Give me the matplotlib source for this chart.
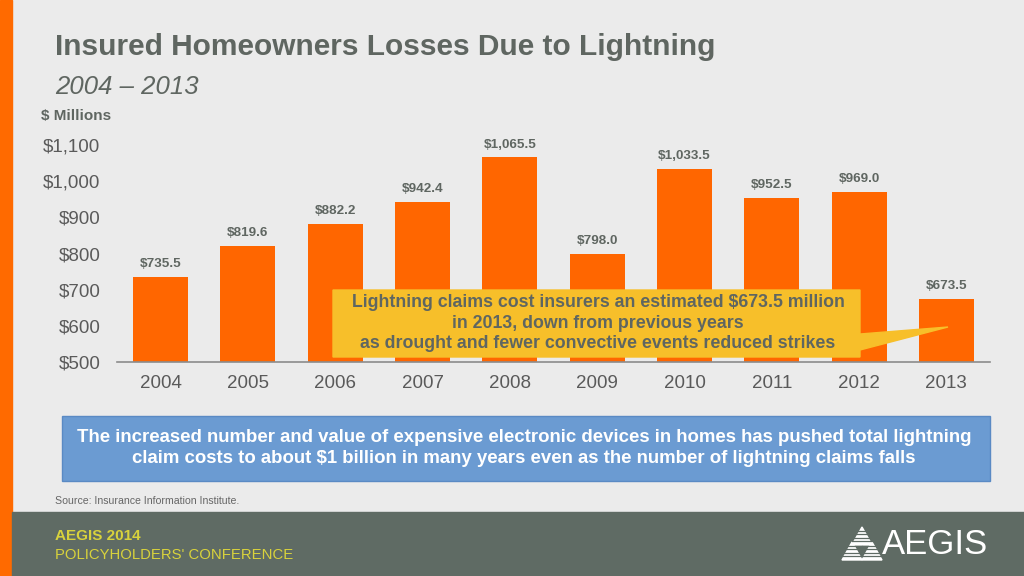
import numpy as np
import matplotlib
matplotlib.use("Agg")
import matplotlib.pyplot as plt
from matplotlib.patches import Rectangle, Polygon

plt.rcParams['font.family'] = ['Liberation Sans', 'DejaVu Sans']

# data
years = ['2004', '2005', '2006', '2007', '2008', '2009', '2010', '2011', '2012', '2013']
losses = [735.5, 819.6, 882.2, 942.4, 1065.5, 798.0, 1033.5, 952.5, 969.0, 673.5]
y_ticks = [500, 600, 700, 800, 900, 1000, 1100]

grey_txt = '#5f6661'
orange = '#ff6600'

fig = plt.figure(figsize=(10.24, 5.76), dpi=100)
fig.patch.set_facecolor('#ebebeb')

# background layer (pixel coords)
bg = fig.add_axes([0, 0, 1, 1], zorder=0)
bg.set_xlim(0, 1024)
bg.set_ylim(576, 0)
bg.axis('off')
bg.add_patch(Rectangle((0, 0), 12, 576, color='#ff6a00'))
bg.add_patch(Rectangle((12, 512), 1012, 64, color='#5f6b64'))

# chart
ax = fig.add_axes([117 / 1024, (576 - 362) / 576, 873 / 1024, 217 / 576], zorder=2)
ax.patch.set_alpha(0)
x = np.arange(len(years))
bars = ax.bar(x, losses, width=0.63, color=orange)
ax.set_xlim(-0.5, len(years) - 0.5)
ax.set_ylim(500, 1100)
ax.set_yticks(y_ticks)
ax.set_yticklabels([f'${v:,}' for v in y_ticks])
ax.set_xticks(x)
ax.set_xticklabels(years)
for s in ['top', 'right', 'left']:
    ax.spines[s].set_visible(False)
ax.spines['bottom'].set_color('#8c8c8c')
ax.spines['bottom'].set_linewidth(1.2)
ax.tick_params(axis='y', length=0, pad=12, labelsize=13.5, labelcolor='#5a5a5a')
ax.tick_params(axis='x', length=0, pad=9, labelsize=13.5, labelcolor='#5a5a5a')

for xi, v in zip(x, losses):
    ax.annotate(f'${v:,.1f}', (xi, v), xytext=(0, 5), textcoords='offset points',
                ha='center', va='bottom', fontsize=9.7, fontweight='bold',
                color=grey_txt, clip_on=False)

# overlay layer
ov = fig.add_axes([0, 0, 1, 1], zorder=5)
ov.set_xlim(0, 1024)
ov.set_ylim(576, 0)
ov.axis('off')
ov.patch.set_alpha(0)

ov.text(55, 47, 'Insured Homeowners Losses Due to Lightning', fontsize=21.5,
        fontweight='bold', color=grey_txt, va='center', ha='left')
ov.text(55, 87, '2004 \u2013 2013', fontsize=18.5, fontstyle='italic',
        color=grey_txt, va='center', ha='left')
ov.text(41, 116, '$ Millions', fontsize=11, fontweight='bold',
        color=grey_txt, va='center', ha='left')

# callout
yellow = '#f7bf2a'
ov.add_patch(Polygon([(333, 290), (860, 290), (860, 334), (948, 327),
                      (860, 350), (860, 357), (333, 357)], closed=True,
                     color=yellow))
ov.text(598, 323, 'Lightning claims cost insurers an estimated $673.5 million\n'
        'in 2013, down from previous years\n'
        'as drought and fewer convective events reduced strikes',
        fontsize=12.8, fontweight='bold', color=grey_txt, ha='center',
        va='center', linespacing=1.25)

# blue box
ov.add_patch(Rectangle((62, 416), 928, 65, facecolor='#6b9bd2',
                       edgecolor='#5a8ac4', linewidth=1))
ov.text(524, 448, 'The increased number and value of expensive electronic devices in homes has pushed total lightning\n'
        'claim costs to about $1 billion in many years even as the number of lightning claims falls',
        fontsize=13.4, fontweight='bold', color='white', ha='center',
        va='center', linespacing=1.3)

ov.text(55, 501, 'Source: Insurance Information Institute.', fontsize=7.6,
        color='#666666', va='center', ha='left')

# footer
ov.text(55, 536, 'AEGIS 2014', fontsize=11, fontweight='bold',
        color='#d8d23c', va='center', ha='left')
ov.text(55, 555, "POLICYHOLDERS' CONFERENCE", fontsize=10.7,
        color='#d8d23c', va='center', ha='left')

# logo
for cx, top in [(862, 527), (852, 542), (872, 542)]:
    ov.add_patch(Polygon([(cx, top), (cx - 10, top + 18), (cx + 10, top + 18)],
                         closed=True, color='white'))
    for k in range(1, 5):
        yy = top + k * 3.6
        ov.plot([cx - 10, cx + 10], [yy, yy], color='#5f6b64', lw=0.9)
ov.text(882, 545, 'AEGIS', fontsize=25, color='white', va='center',
        ha='left', fontweight='light')

fig.savefig('out.png', dpi=100, facecolor=fig.get_facecolor())
